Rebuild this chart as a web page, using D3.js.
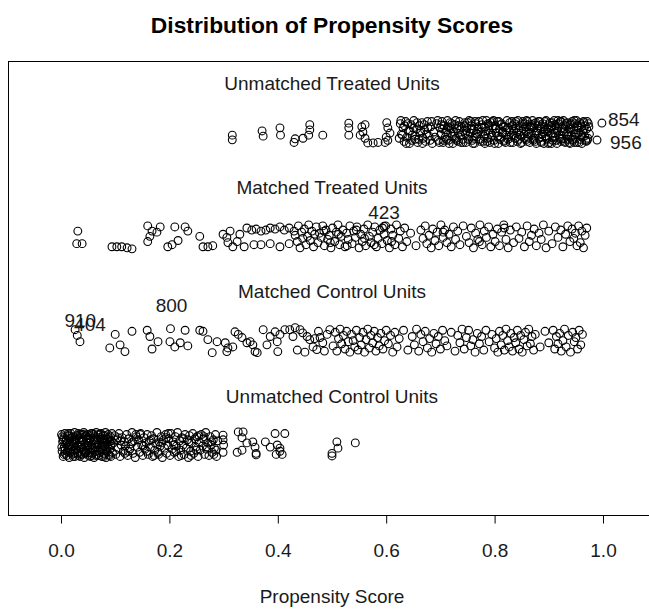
<!DOCTYPE html>
<html>
<head>
<meta charset="utf-8">
<script src="https://cdn.jsdelivr.net/npm/d3@7"></script>
<style>
  body { margin: 0; background: #fff; }
  svg { display: block; }
</style>
</head>
<body>
<svg id="chart" width="649" height="610"></svg>
<script>
// ---- data -------------------------------------------------------------
const groupNames = ["Unmatched Treated Units", "Matched Treated Units", "Matched Control Units", "Unmatched Control Units"];
const groupLevels = [4, 3, 2, 1];
const xTicks = [0, 0.2, 0.4, 0.6, 0.8, 1.0];

// [propensity score, vertical jitter]
const unmatchedTreated = [
  [0.316,-0.03],[0.316,-0.075],[0.371,0.01],[0.373,-0.04],[0.404,0.04],[0.405,-0.03],
  [0.432,-0.065],[0.430,-0.10],[0.4465,-0.06],[0.459,0.07],[0.459,0.02],[0.457,-0.03],[0.483,-0.03],
  [0.531,0.085],[0.531,0.04],[0.531,-0.03],
  [0.555,0.05],[0.561,0.07],[0.557,0.00],[0.552,-0.03],[0.561,-0.06],[0.566,-0.105],[0.576,-0.105],
  [0.585,-0.10],[0.598,-0.10],[0.601,0.09],[0.603,0.04],[0.607,-0.01],[0.600,-0.05],[0.603,-0.08],
  [0.626,0.08],[0.628,-0.02],[0.631,0.04],[0.633,-0.09],[0.636,0.10],[0.638,-0.05],[0.641,0.01],[0.643,-0.11],
  [0.646,0.07],[0.648,-0.03],[0.651,0.11],[0.653,-0.07],[0.656,0.03],[0.658,-0.10],[0.661,0.06],[0.663,-0.01],
  [0.666,0.09],[0.668,-0.06],[0.671,0.02],[0.673,-0.09],[0.676,0.10],[0.679,-0.04],[0.682,0.05],[0.685,-0.11],
  [0.688,0.00],[0.693,0.08],[0.696,-0.08],[0.699,0.04],
  [0.624,-0.06],[0.627,0.11],[0.630,-0.03],[0.634,0.06],[0.637,-0.11],[0.640,0.08],[0.644,0.01],[0.647,-0.08],
  [0.650,0.04],[0.654,-0.04],[0.657,0.09],[0.660,-0.07],[0.664,0.01],[0.667,-0.11],[0.670,0.07],[0.674,-0.02],
  [0.677,0.04],[0.681,-0.08],[0.684,0.10],[0.690,-0.05],[0.695,0.11],[0.698,-0.10],
  [0.701,-0.02],[0.703,0.10],[0.705,-0.10],[0.707,0.06],[0.709,-0.05],[0.711,0.02],[0.713,0.11],[0.715,-0.08],
  [0.717,0.04],[0.719,-0.01],[0.721,0.08],[0.723,-0.11],[0.725,0.00],[0.727,0.07],[0.729,-0.06],[0.731,0.03],
  [0.733,-0.09],[0.735,0.10],[0.737,-0.03],[0.739,0.05],[0.741,-0.07],[0.743,0.01],[0.745,0.09],[0.747,-0.10],
  [0.749,0.04],[0.751,-0.04],[0.753,0.11],[0.755,-0.01],[0.757,0.06],[0.759,-0.08],[0.761,0.02],[0.763,-0.11],
  [0.765,0.08],[0.767,-0.05],[0.769,0.03],[0.771,0.10],[0.773,-0.07],[0.775,0.00],[0.777,0.07],[0.779,-0.09],
  [0.781,0.05],[0.783,-0.02],[0.785,0.11],[0.787,-0.06],[0.789,0.02],[0.791,-0.10],[0.793,0.09],[0.795,-0.03],
  [0.797,0.04],[0.799,-0.08],[0.801,0.06],[0.803,-0.01],[0.805,0.10],[0.807,-0.11],[0.809,0.03],[0.811,-0.05],
  [0.813,0.08],[0.815,0.00],[0.817,-0.09],[0.819,0.05],[0.821,-0.03],[0.823,0.11],[0.825,-0.07],[0.827,0.02],
  [0.829,-0.10],
  [0.704,0.03],[0.712,-0.07],[0.718,0.09],[0.726,-0.04],[0.734,0.06],[0.742,-0.10],[0.748,0.01],[0.756,0.10],
  [0.762,-0.06],[0.768,-0.02],[0.776,0.04],[0.782,-0.11],[0.788,0.08],[0.794,-0.05],[0.798,0.11],[0.806,-0.04],
  [0.812,0.07],[0.818,-0.08],[0.824,0.04],[0.828,0.09],
  [0.702,0.07],[0.706,-0.08],[0.710,0.00],[0.714,0.05],[0.716,-0.11],[0.720,0.03],[0.722,-0.04],[0.728,0.11],
  [0.730,-0.08],[0.736,0.02],[0.738,-0.10],[0.744,0.06],[0.746,-0.02],[0.750,0.09],[0.752,-0.07],[0.758,0.03],
  [0.760,-0.11],[0.764,0.10],[0.766,-0.01],[0.770,0.05],[0.774,-0.09],[0.778,0.11],[0.780,-0.04],[0.784,0.01],
  [0.786,-0.09],[0.790,0.06],[0.792,-0.01],[0.796,0.10],[0.800,-0.11],[0.802,0.03],[0.808,0.10],[0.810,-0.07],
  [0.814,-0.01],[0.816,0.05],[0.820,-0.10],[0.822,0.02],[0.826,-0.05],
  [0.833,0.06],[0.836,-0.04],[0.839,0.10],[0.842,-0.09],[0.845,0.02],[0.848,-0.11],[0.851,0.08],[0.854,-0.02],
  [0.857,0.05],[0.859,-0.07],
  [0.831,-0.03],[0.832,0.10],[0.834,-0.10],[0.835,0.02],[0.837,0.08],[0.838,-0.06],[0.840,0.04],[0.841,-0.01],
  [0.843,0.11],[0.844,-0.07],[0.846,0.06],[0.847,-0.03],[0.849,0.01],[0.850,-0.10],[0.852,0.10],[0.853,0.03],
  [0.855,-0.06],[0.856,0.08],[0.858,0.00],[0.859,0.11],
  [0.861,0.10],[0.862,-0.05],[0.864,0.03],[0.865,-0.10],[0.867,0.07],[0.868,-0.01],[0.870,0.11],[0.871,-0.08],
  [0.873,0.04],[0.874,-0.03],[0.876,0.09],[0.877,-0.11],[0.879,0.01],[0.880,0.06],[0.882,-0.06],[0.883,0.10],
  [0.885,-0.09],[0.886,0.03],[0.888,-0.02],[0.889,0.08],[0.891,-0.11],[0.892,0.05],[0.894,-0.04],[0.895,0.11],
  [0.897,-0.07],[0.898,0.00],[0.900,0.07],[0.901,-0.10],[0.903,0.04],[0.904,-0.02],[0.906,0.09],[0.907,-0.08],
  [0.909,0.02],[0.910,0.11],[0.912,-0.05],[0.913,0.06],[0.915,-0.11],[0.916,0.01],[0.918,0.08],[0.919,-0.03],
  [0.921,0.10],[0.922,-0.09],[0.924,0.04],[0.925,-0.06],[0.927,0.11],[0.928,0.00],[0.930,-0.10],[0.931,0.06],
  [0.933,-0.02],[0.934,0.09],[0.936,-0.07],[0.937,0.03],[0.939,-0.11],[0.940,0.07],[0.942,-0.04],[0.943,0.10],
  [0.945,-0.08],[0.946,0.02],[0.948,0.08],[0.949,-0.05],[0.951,0.11],[0.952,-0.10],[0.954,0.04],[0.955,-0.01],
  [0.957,0.09],[0.958,-0.07],[0.960,0.05],[0.961,-0.11],[0.963,0.01],[0.964,0.10],[0.966,-0.04],[0.967,0.06],
  [0.969,-0.09],[0.970,0.03],[0.972,-0.06],[0.973,0.08],[0.975,-0.02],
  [0.863,-0.02],[0.869,0.05],[0.875,-0.09],[0.881,0.10],[0.887,-0.05],[0.893,0.02],[0.899,-0.11],[0.905,0.06],
  [0.911,-0.01],[0.917,0.11],[0.923,-0.07],[0.929,0.03],[0.935,-0.04],[0.941,0.08],[0.947,-0.10],[0.953,0.06],
  [0.959,-0.03],[0.965,0.09],[0.971,-0.08],
  [0.860,-0.09],[0.866,0.05],[0.872,-0.06],[0.874,0.08],[0.878,-0.01],[0.884,0.04],[0.886,-0.10],[0.890,0.00],
  [0.893,0.10],[0.896,-0.06],[0.899,0.03],[0.902,0.09],[0.905,-0.11],[0.908,-0.04],[0.911,0.07],[0.914,-0.08],
  [0.917,0.03],[0.920,-0.06],[0.923,0.10],[0.926,0.01],[0.929,-0.09],[0.932,0.08],[0.935,0.00],[0.938,-0.10],
  [0.941,0.04],[0.944,-0.07],[0.947,0.11],[0.950,-0.02],[0.953,0.02],[0.956,-0.10],[0.959,0.07],[0.962,-0.05],
  [0.965,0.03],[0.968,-0.08],[0.971,0.10],[0.974,0.05]
];

const matchedTreated = [
  [0.031,0.05],[0.029,-0.07],[0.039,-0.07],
  [0.094,-0.10],[0.103,-0.10],[0.112,-0.10],[0.122,-0.11],[0.131,-0.12],
  [0.160,0.10],[0.168,0.05],[0.164,0.00],[0.160,-0.05],[0.183,0.09],[0.177,0.04],
  [0.210,0.09],[0.229,0.09],[0.234,0.05],[0.216,-0.04],[0.197,-0.10],[0.205,-0.08],
  [0.256,0.00],[0.262,-0.10],[0.271,-0.10],[0.280,-0.09],
  [0.299,0.02],[0.306,-0.01],[0.312,0.05],[0.308,-0.06],[0.317,-0.10],[0.325,-0.05],[0.330,0.02],
  [0.343,0.08],[0.352,0.06],[0.360,0.07],[0.369,0.05],[0.378,0.06],[0.386,0.08],[0.395,0.07],[0.404,0.09],
  [0.412,0.06],[0.421,0.08],[0.430,0.05],
  [0.338,-0.10],[0.356,-0.08],[0.369,-0.08],[0.386,-0.07],[0.404,-0.10],[0.421,-0.07],
  [0.432,0.01],[0.436,-0.05],[0.438,0.10],[0.441,-0.11],[0.444,0.04],[0.446,-0.02],[0.449,0.07],[0.452,-0.08],
  [0.455,0.00],[0.457,0.11],[0.460,-0.04],[0.463,0.05],[0.466,-0.10],[0.468,0.02],[0.471,0.09],[0.474,-0.06],
  [0.477,0.03],[0.480,-0.01],[0.483,0.10],[0.486,-0.09],[0.489,0.06],[0.492,-0.03],[0.495,0.01],[0.498,-0.11],
  [0.501,0.08],[0.505,-0.05],[0.508,0.04],[0.511,0.11],[0.514,-0.08],[0.517,0.00],[0.520,0.06],[0.524,-0.10],
  [0.527,0.03],[0.530,-0.03],[0.533,0.10],[0.537,-0.07],[0.540,0.05],[0.543,-0.01],[0.546,0.09],[0.550,-0.11],
  [0.553,0.02],[0.556,-0.05],[0.559,0.07],[0.562,-0.09],[0.566,0.11],[0.569,0.00],[0.572,-0.06],[0.575,0.04],
  [0.579,0.09],[0.582,-0.10],[0.585,-0.02],[0.588,0.06],[0.592,-0.07],[0.596,0.02],[0.599,0.10],[0.602,-0.04],
  [0.606,-0.11],[0.609,0.07],[0.612,0.01],[0.616,-0.08],[0.619,0.11],[0.623,-0.02],[0.626,0.05],[0.630,-0.10],
  [0.634,0.08],[0.638,-0.05],[0.645,0.03],[0.655,-0.09],
  [0.664,0.06],[0.668,-0.02],[0.672,0.10],[0.675,-0.07],[0.679,0.01],[0.683,-0.11],[0.686,0.07],[0.690,-0.04],
  [0.694,0.04],[0.697,-0.09],[0.701,0.11],[0.705,-0.01],[0.708,0.06],[0.712,-0.06],[0.716,0.02],[0.720,-0.10],
  [0.724,0.09],[0.728,-0.03],[0.732,0.05],[0.736,-0.08],
  [0.742,0.10],[0.748,0.00],[0.753,-0.06],[0.757,0.08],[0.761,-0.11],[0.765,0.03],[0.769,-0.03],[0.773,0.11],
  [0.777,-0.08],[0.781,0.05],[0.785,-0.01],[0.789,0.09],[0.793,-0.10],[0.797,0.02],[0.801,-0.05],[0.805,0.07],
  [0.809,-0.09],[0.813,0.04],[0.817,0.11],[0.821,-0.03],[0.825,-0.11],[0.829,0.06],
  [0.835,-0.06],[0.840,0.09],[0.845,-0.02],[0.850,0.04],[0.855,-0.10],[0.860,0.10],[0.864,-0.05],[0.868,0.01],
  [0.873,0.07],[0.877,-0.09],[0.882,0.03],[0.886,-0.03],[0.890,0.11],[0.895,-0.11],[0.900,0.05],
  [0.906,-0.07],[0.912,0.09],[0.917,-0.01],[0.922,0.06],[0.926,-0.10],[0.931,0.02],[0.935,0.10],[0.939,-0.05],
  [0.943,0.07],[0.946,-0.02],[0.949,0.03],[0.952,-0.09],[0.955,0.10],[0.958,-0.06],[0.961,0.05],[0.964,-0.11],
  [0.967,0.01],[0.970,0.08],
  [0.485,0.05],[0.497,-0.06],[0.512,0.02],[0.528,-0.09],[0.545,0.06],[0.560,-0.02],[0.578,-0.08],[0.593,0.08],
  [0.610,-0.05],[0.705,0.04],[0.772,-0.05],[0.818,0.08]
];

const matchedControl = [
  [0.026,0.105],
  [0.100,0.06],[0.090,-0.07],[0.109,-0.04],[0.118,-0.105],[0.131,0.09],
  [0.159,0.10],[0.164,0.04],[0.168,-0.08],[0.179,-0.01],[0.201,-0.01],[0.210,-0.06],
  [0.220,-0.02],[0.229,0.10],[0.234,-0.05],
  [0.256,0.10],[0.262,0.09],[0.271,0.01],[0.288,-0.01],[0.279,-0.115],
  [0.303,-0.02],[0.306,-0.105],[0.308,-0.07],[0.317,-0.06],[0.321,0.085],[0.327,0.06],[0.334,0.03],
  [0.343,-0.02],[0.349,-0.01],[0.354,-0.04],[0.358,-0.105],[0.362,-0.115],
  [0.373,0.105],[0.380,-0.04],[0.386,0.04],[0.395,0.085],[0.399,-0.01],[0.400,-0.105],[0.404,0.06],
  [0.413,0.105],[0.422,0.105],[0.428,0.04],[0.432,0.125],[0.441,0.105],[0.446,0.075],[0.454,0.04],
  [0.459,0.01],[0.465,-0.06],[0.472,-0.085],[0.478,0.03],[0.483,-0.02],[0.491,0.06],[0.496,0.105],
  [0.436,-0.09],[0.450,-0.11],[0.468,0.02],[0.486,-0.10],[0.475,0.09],
  [0.502,-0.05],[0.506,0.08],[0.509,-0.10],[0.512,0.02],[0.515,0.11],[0.518,-0.03],[0.521,0.05],[0.524,-0.08],
  [0.527,0.09],[0.530,-0.01],[0.533,-0.11],[0.536,0.06],[0.539,0.00],[0.542,-0.06],[0.545,0.10],[0.548,-0.09],
  [0.551,0.03],[0.554,-0.04],[0.557,0.08],[0.560,-0.11],[0.563,0.01],[0.566,0.11],[0.569,-0.07],[0.572,0.05],
  [0.575,-0.02],[0.578,0.09],[0.581,-0.10],[0.584,0.03],[0.587,-0.05],[0.590,0.07],[0.594,-0.08],[0.597,0.00],
  [0.600,0.10],[0.604,-0.03],[0.608,0.05],[0.612,-0.11],[0.616,0.08],[0.620,-0.06],[0.624,0.02],
  [0.632,0.10],[0.640,-0.09],
  [0.648,0.04],[0.652,-0.04],[0.656,0.11],[0.660,-0.10],[0.664,0.06],[0.668,-0.01],[0.672,0.09],[0.676,-0.07],
  [0.680,0.02],[0.684,-0.11],[0.688,0.07],[0.692,-0.03],[0.696,0.04],[0.700,-0.08],[0.704,0.10],[0.708,0.00],
  [0.712,-0.05],[0.720,0.08],[0.727,-0.10],
  [0.732,0.05],[0.736,-0.02],[0.740,0.11],[0.744,-0.08],[0.748,0.03],[0.752,0.10],[0.756,-0.05],[0.760,0.01],
  [0.764,-0.11],[0.768,0.07],[0.772,-0.03],[0.776,0.04],[0.780,-0.09],[0.784,0.10],[0.790,-0.01],[0.795,0.06],
  [0.800,-0.07],[0.803,0.02],[0.806,-0.11],[0.809,0.09],[0.812,-0.04],[0.815,0.05],[0.818,-0.09],[0.821,0.11],
  [0.824,0.00],[0.827,-0.06],[0.830,0.07],[0.833,-0.10],[0.836,0.03],[0.839,-0.02],[0.842,0.10],[0.845,-0.08],
  [0.848,0.05],[0.851,-0.11],[0.854,0.01],[0.857,0.08],[0.860,-0.05],[0.863,0.11],[0.866,-0.03],[0.869,0.04],
  [0.872,-0.09],[0.875,0.06],[0.884,-0.06],[0.893,0.09],[0.900,-0.02],
  [0.908,0.10],[0.911,-0.08],[0.914,0.04],[0.917,-0.03],[0.920,0.07],[0.923,-0.10],[0.926,0.00],[0.929,0.11],
  [0.932,-0.06],[0.936,0.05],[0.940,-0.11],[0.944,0.08],[0.947,-0.01],[0.950,0.03],[0.953,-0.08],[0.956,0.10],
  [0.959,-0.04],[0.962,0.06]
];

const unmatchedControl = [
  [0.001,0.10],[0.002,-0.06],[0.003,0.03],[0.004,-0.11],[0.005,0.07],[0.006,-0.02],[0.007,0.11],[0.008,-0.08],
  [0.009,0.01],[0.010,0.05],[0.011,-0.10],[0.012,0.09],[0.013,-0.04],[0.014,0.00],[0.015,-0.12],[0.016,0.06],
  [0.017,-0.07],[0.018,0.11],[0.019,-0.01],[0.020,0.04],[0.021,-0.09],[0.022,0.08],[0.023,-0.05],[0.024,0.02],
  [0.025,0.12],[0.026,-0.11],[0.027,0.05],[0.028,-0.03],[0.029,0.09],[0.030,-0.08],[0.031,0.00],[0.032,0.11],
  [0.033,-0.06],[0.034,0.03],[0.035,-0.11],[0.036,0.07],[0.037,-0.02],[0.038,0.10],[0.039,-0.09],[0.040,0.04],
  [0.041,-0.04],[0.042,0.12],[0.043,-0.12],[0.044,0.01],[0.045,0.08],[0.046,-0.07],[0.047,0.05],[0.048,-0.01],
  [0.049,0.10],[0.050,-0.10],[0.051,0.02],[0.052,-0.05],[0.053,0.09],[0.054,-0.11],[0.055,0.06],[0.056,0.00],
  [0.057,-0.08],[0.058,0.11],[0.059,-0.03],[0.060,0.04],[0.061,-0.12],[0.062,0.08],[0.063,-0.06],[0.064,0.02],
  [0.065,0.12],[0.066,-0.09],[0.067,0.05],[0.068,-0.02],[0.069,0.10],[0.070,-0.10],[0.071,0.01],[0.072,0.07],
  [0.073,-0.05],[0.074,0.11],[0.075,-0.11],[0.076,0.03],[0.077,-0.03],[0.078,0.09],[0.079,-0.08],[0.080,0.05],
  [0.081,-0.01],[0.082,0.12],[0.083,-0.12],[0.084,0.06],[0.085,-0.06],[0.086,0.00],[0.087,0.10],[0.088,-0.09],
  [0.089,0.03],[0.090,-0.04],[0.091,0.08],[0.092,-0.11],[0.093,0.04],[0.094,0.11],[0.095,-0.07],
  [0.0015,-0.02],[0.004,0.05],[0.0075,-0.05],[0.011,0.02],[0.0145,0.09],[0.018,-0.04],[0.0215,0.01],[0.025,-0.08],
  [0.0285,0.06],[0.032,-0.10],[0.0355,0.10],[0.039,0.00],[0.0425,-0.06],[0.046,0.09],[0.0495,-0.03],[0.053,0.05],
  [0.0565,-0.10],[0.060,0.10],[0.0635,-0.02],[0.067,0.07],[0.0705,-0.07],[0.074,0.00],[0.0775,0.06],[0.081,-0.09],
  [0.0845,0.02],[0.088,0.07],[0.0915,-0.01],
  [0.0025,0.08],[0.0055,-0.09],[0.0085,0.04],[0.0115,-0.06],[0.0135,0.11],[0.0165,-0.01],[0.0195,0.07],[0.0225,-0.11],
  [0.0245,0.04],[0.0275,-0.05],[0.0305,0.09],[0.0335,-0.02],[0.0365,-0.09],[0.0385,0.05],[0.0415,0.10],[0.0445,-0.08],
  [0.0475,0.02],[0.0505,0.07],[0.0535,-0.07],[0.0555,0.11],[0.0585,-0.05],[0.0615,0.05],[0.0645,-0.10],[0.0675,0.00],
  [0.0695,-0.05],[0.0725,0.10],[0.0755,-0.02],[0.0785,-0.11],[0.0815,0.09],[0.0835,-0.04],[0.0865,0.05],[0.0895,-0.10],
  [0.0925,0.01],
  [0.097,0.02],[0.099,0.09],[0.101,-0.09],[0.103,0.05],[0.105,-0.03],[0.107,0.11],[0.109,-0.11],[0.111,0.00],
  [0.113,0.07],[0.115,-0.06],[0.117,0.03],[0.119,-0.01],[0.121,0.10],[0.123,-0.10],[0.125,0.06],[0.127,-0.04],
  [0.129,0.01],[0.131,0.12],[0.133,-0.08],[0.135,0.04],[0.137,-0.12],[0.139,0.08],[0.141,-0.02],[0.143,0.05],
  [0.145,-0.07],[0.147,0.11],[0.149,0.00],[0.151,-0.10],[0.153,0.07],[0.155,-0.04],[0.157,0.02],[0.159,0.10],
  [0.161,-0.09],[0.163,0.04],[0.165,-0.02],[0.167,0.09],[0.169,-0.11],[0.171,0.06],[0.173,-0.05],[0.175,0.01],
  [0.177,0.12],[0.179,-0.07],[0.181,0.03],[0.183,-0.01],[0.185,0.08],[0.187,-0.12],[0.189,0.05],[0.191,-0.03],
  [0.193,0.10],[0.195,-0.08],[0.197,0.00],[0.199,0.06],[0.201,-0.10],[0.203,0.11],[0.205,-0.04],[0.207,0.03],
  [0.209,-0.07],[0.211,0.08],[0.213,-0.01],[0.215,0.12],[0.217,-0.11],[0.219,0.04],[0.221,-0.05],[0.223,0.07],
  [0.225,0.00],[0.227,-0.09],[0.229,0.10],[0.231,-0.03],[0.233,0.05],[0.235,-0.12],[0.237,0.09],[0.239,-0.06],
  [0.241,0.02],[0.243,0.11],[0.245,-0.08],[0.247,0.06],[0.249,-0.02],[0.251,0.08],[0.253,-0.11],[0.255,0.03],
  [0.257,-0.05],[0.259,0.10],[0.261,-0.01],[0.263,0.06],[0.265,-0.09],[0.267,0.12],[0.269,-0.04],[0.271,0.02],
  [0.273,-0.10],[0.275,0.08],[0.277,0.00],[0.279,-0.07],[0.281,0.05],[0.283,-0.03],[0.285,0.10],[0.287,-0.11],
  [0.289,0.04],
  [0.105,0.07],[0.118,-0.08],[0.132,0.03],[0.146,0.10],[0.158,-0.06],[0.172,-0.10],[0.186,0.02],[0.198,0.11],
  [0.212,-0.06],[0.226,0.06],[0.240,-0.10],[0.254,0.09],[0.268,-0.02],[0.282,-0.09],
  [0.110,0.04],[0.124,-0.06],[0.138,0.10],[0.152,-0.01],[0.166,0.05],[0.180,-0.09],[0.194,0.07],[0.208,0.00],
  [0.222,-0.10],[0.236,0.03],[0.250,-0.05],[0.264,0.08],[0.278,0.03],[0.286,-0.05],
  [0.299,0.095],[0.299,0.05],[0.300,0.00],[0.299,-0.07],
  [0.327,0.125],[0.336,0.125],[0.334,0.07],[0.343,0.02],[0.325,-0.07],[0.334,-0.05],
  [0.354,0.03],[0.358,-0.02],[0.360,-0.08],[0.360,-0.095],
  [0.377,0.03],[0.386,-0.02],[0.395,0.11],[0.399,0.00],[0.404,-0.03],[0.404,-0.06],[0.408,-0.09],[0.397,-0.09],[0.413,0.11],
  [0.509,0.03],[0.511,-0.03],[0.500,-0.08],[0.500,-0.105],
  [0.543,0.02]
];

// identified units: id, group index, score, jitter
const labelIds    = ["854", "956", "423", "800", "910", "404"];
const labelGroup  = [0, 0, 1, 2, 2, 2];
const labelScore  = [0.998, 0.989, 0.596, 0.202, 0.030, 0.035];
const labelJitter = [0.086, -0.077, 0.096, 0.115, 0.05, -0.01];

// ---- layout -----------------------------------------------------------
const width = 649, height = 610;
const box = { left: 8, top: 61, right: 656, bottom: 515 };
const fontFamily = '"Liberation Sans", Arial, Helvetica, sans-serif';
const baseSize = 19;
const ink = "#1a1a1a";
const pointRadius = 3.9;
const labelLift = 0.47;

// label placement around the identified point (anchor, dx, dy)
const labelPlacement = {
  "854": ["start", 6, -4],
  "956": ["start", 13, 2],
  "423": ["middle", 0, -14],
  "800": ["middle", 1, -23],
  "910": ["middle", 3, -15],
  "404": ["middle", 10, -17]
};

const x = d3.scaleLinear().domain([0, 1]).range([61, 603]);
const y = d3.scaleLinear().domain([1, 4]).range([445, 132]);

const svg = d3.select("#chart")
  .attr("font-family", fontFamily);

svg.append("rect")
  .attr("width", width).attr("height", height).attr("fill", "#fff");

// title
svg.append("text")
  .attr("x", (box.left + box.right) / 2)
  .attr("y", 25)
  .attr("dy", "0.35em")
  .attr("text-anchor", "middle")
  .attr("font-size", baseSize * 1.2)
  .attr("font-weight", "bold")
  .attr("fill", "#000")
  .text("Distribution of Propensity Scores");

// plot frame
svg.append("rect")
  .attr("x", box.left + 0.5).attr("y", box.top + 0.5)
  .attr("width", box.right - box.left).attr("height", box.bottom - box.top)
  .attr("fill", "none").attr("stroke", "#000").attr("stroke-width", 1);

// group captions
svg.append("g").selectAll("text")
  .data(groupNames)
  .join("text")
  .attr("x", x(0.5))
  .attr("y", (d, i) => y(groupLevels[i] + labelLift))
  .attr("dy", "0.35em")
  .attr("text-anchor", "middle")
  .attr("font-size", baseSize)
  .attr("fill", ink)
  .text(d => d);

// jittered points
const groups = [unmatchedTreated, matchedTreated, matchedControl, unmatchedControl];
const pts = svg.append("g")
  .attr("fill", "none").attr("stroke", "#000").attr("stroke-width", 1.1);
groups.forEach((rows, gi) => {
  pts.selectAll(null)
    .data(rows)
    .join("circle")
    .attr("cx", d => x(d[0]))
    .attr("cy", d => y(groupLevels[gi] + d[1]))
    .attr("r", pointRadius);
});

// identified points and their ids
const ident = labelIds.map((id, i) => ({
  id, g: labelGroup[i], s: labelScore[i], j: labelJitter[i]
}));
pts.selectAll(null)
  .data(ident)
  .join("circle")
  .attr("cx", d => x(d.s))
  .attr("cy", d => y(groupLevels[d.g] + d.j))
  .attr("r", pointRadius);

svg.append("g").selectAll("text")
  .data(ident)
  .join("text")
  .attr("x", d => x(d.s) + labelPlacement[d.id][1])
  .attr("y", d => y(groupLevels[d.g] + d.j) + labelPlacement[d.id][2])
  .attr("dy", "0.35em")
  .attr("text-anchor", d => labelPlacement[d.id][0])
  .attr("font-size", baseSize)
  .attr("fill", ink)
  .text(d => d.id);

// x axis
const axis = d3.axisBottom(x)
  .tickValues(xTicks)
  .tickFormat(d3.format(".1f"))
  .tickSize(8)
  .tickPadding(20);
const gx = svg.append("g")
  .attr("transform", `translate(0,${box.bottom + 0.5})`)
  .call(axis);
gx.select(".domain").remove();
gx.attr("font-family", fontFamily).attr("font-size", baseSize);
gx.selectAll(".tick line").attr("stroke", "#000");
gx.selectAll(".tick text").attr("fill", ink);

// x axis title
svg.append("text")
  .attr("x", (box.left + box.right) / 2)
  .attr("y", 596)
  .attr("dy", "0.35em")
  .attr("text-anchor", "middle")
  .attr("font-size", baseSize)
  .attr("fill", ink)
  .text("Propensity Score");
</script>
</body>
</html>
